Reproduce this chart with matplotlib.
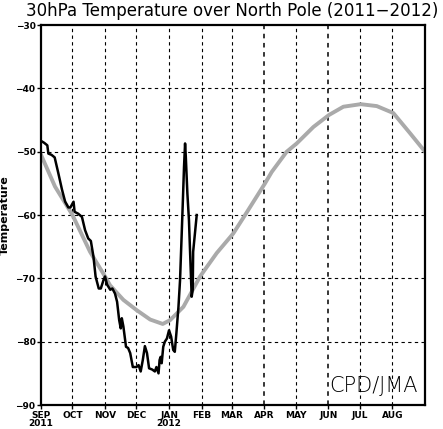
import numpy as np
import matplotlib
matplotlib.use("Agg")
import matplotlib.pyplot as plt

# days counted from 2011-09-01
month_days = [0, 30, 61, 91, 122, 153, 182, 213, 243, 274, 304, 335]
month_labels = ["SEP\n2011", "OCT", "NOV", "DEC", "JAN\n2012", "FEB", "MAR",
                "APR", "MAY", "JUN", "JUL", "AUG"]
yticks = [-30, -40, -50, -60, -70, -80, -90]

# climatology (gray)
clim_day = [0, 13.3, 30, 46.7, 61, 65.8, 78.5, 91, 104, 116, 123, 135.7, 151.6,
            167.5, 183.3, 194.5, 213.5, 219.9, 234.2, 243.7, 259.6, 274.5, 288.2,
            304.7, 320, 335.8, 351.8, 366]
clim_temp = [-50.5, -55.5, -60.0, -65.8, -69.7, -71.1, -73.4, -75.0, -76.5, -77.2,
             -76.6, -74.5, -69.7, -66.0, -62.9, -60.0, -55.0, -53.2, -50.0, -48.7,
             -46.1, -44.2, -42.9, -42.5, -42.8, -43.9, -47.1, -50.0]

# 2011-2012 observed (black)
obs_day = [0, 3, 6, 7, 10, 13, 16.5, 20, 23, 26, 28, 31, 32, 35.5, 39, 42, 45, 47.5,
           50, 52, 55, 57, 59.5, 61, 63, 66, 68, 70.5, 72.5, 74.5, 76, 77, 78.5, 81,
           83, 85, 87.5, 91, 93, 95, 97, 99, 101, 103, 106, 108.5, 110, 112, 113,
           114, 115, 116.5, 118, 120, 122, 124, 126, 127.5, 129, 131, 132.5, 134,
           135, 136.3, 137.3, 138, 139.5, 141, 142, 143.6, 144.6, 145, 147, 148.4]
obs_temp = [-48.3, -48.6, -49.0, -50.3, -50.5, -50.9, -53.4, -56.0, -57.9, -58.8,
            -58.8, -57.9, -59.5, -59.8, -60.3, -62.4, -63.7, -64.1, -66.6, -69.7,
            -71.6, -71.6, -70.3, -69.7, -71.0, -71.8, -71.6, -72.4, -73.7, -76.6,
            -77.9, -76.3, -77.6, -80.8, -81.0, -81.8, -84.0, -84.0, -83.7, -84.7,
            -82.9, -80.7, -81.8, -84.2, -84.4, -84.7, -84.0, -85.0, -82.9, -82.4,
            -83.4, -80.8, -80.0, -79.5, -78.2, -79.2, -81.3, -81.6, -78.7, -74.5,
            -70.3, -63.4, -58.7, -52.4, -48.7, -50.8, -56.6, -60.8, -65.5, -72.9,
            -71.8, -65.8, -62.4, -60.0]


def main():
    fig = plt.figure(figsize=(4.43, 4.29), dpi=100)
    ax = fig.add_axes([0.0926, 0.0559, 0.8668, 0.8858])

    for i, d in enumerate(month_days[1:]):
        lw = 1.1 if month_labels[i + 1] in ("APR", "JUN") else 0.8
        ax.axvline(d, color="black", lw=lw, ls=(0, (3, 3)), zorder=1)
    for t in yticks[1:-1]:
        ax.axhline(t, color="black", lw=0.8, ls=(0, (3, 3)), zorder=1)

    ax.plot(clim_day, clim_temp, color="#aaaaaa", lw=2.8, zorder=2,
            solid_joinstyle="round")
    ax.plot(obs_day, obs_temp, color="black", lw=1.8, zorder=3)

    ax.set_xlim(0, 366)
    ax.set_ylim(-90, -30)
    ax.set_xticks(month_days)
    ax.set_xticklabels(month_labels, fontsize=6.5, fontweight="bold", linespacing=0.9)
    ax.set_yticks(yticks)
    ax.set_yticklabels([str(t).replace("-", "\u2212") for t in yticks],
                       fontsize=6.5, fontweight="bold")
    ax.tick_params(axis="both", direction="out", length=3, width=1, pad=1)
    for s in ax.spines.values():
        s.set_linewidth(1.6)

    ax.set_ylabel("Temperature", fontsize=8, fontweight="bold", labelpad=4)
    fig.text(0.525, 0.975, "30hPa Temperature over North Pole (2011\u22122012)",
             ha="center", va="center", fontsize=12)
    ax.text(0.982, 0.025, "CPD/JMA", transform=ax.transAxes, ha="right",
            va="bottom", fontsize=15, color="black", fontweight="light")

    fig.savefig("out.png", dpi=100)
    plt.close("all")


if __name__ == "__main__":
    main()
